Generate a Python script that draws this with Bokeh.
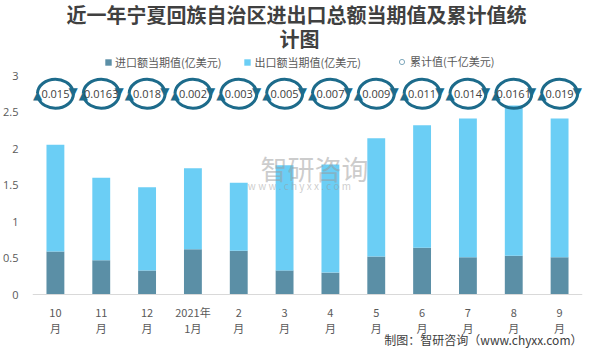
import math
from bokeh.plotting import figure
from bokeh.models import (Range1d, FixedTicker, Label, Legend, LegendItem, ColumnDataSource, Span)
from bokeh.core.properties import value
from bokeh.embed import file_html
from bokeh.resources import INLINE

# ---- data ----
months = ["10\n月", "11\n月", "12\n月", "2021年\n1月", "2\n月", "3\n月",
          "4\n月", "5\n月", "6\n月", "7\n月", "8\n月", "9\n月"]
imports = [0.59, 0.47, 0.33, 0.62, 0.60, 0.33, 0.30, 0.52, 0.64, 0.51, 0.53, 0.51]
exports = [1.46, 1.13, 1.14, 1.11, 0.93, 1.44, 1.48, 1.62, 1.68, 1.90, 2.06, 1.90]
cumulative = [0.015, 0.0163, 0.018, 0.002, 0.003, 0.005, 0.007, 0.009, 0.011, 0.014, 0.0161, 0.019]
y_ticks = [0, 0.5, 1, 1.5, 2, 2.5, 3]
y_tick_labels = ["0", "0.5", "1", "1.5", "2", "2.5", "3"]

DARK = "#5b8fa6"
LIGHT = "#6bcef5"
ICON = "#1d6b8b"
TXT = "#595959"
CJK = "Noto Sans CJK SC"
ICON_Y = 2.75

W, H = 589, 348
PX = 73.0  # pixels per y unit
p = figure(width=W, height=H, x_range=Range1d(-0.5, 11.5),
           y_range=Range1d(-(H - 294) / PX, 294 / PX),
           output_backend="svg", toolbar_location=None, x_axis_location=None,
           min_border_left=30, min_border_right=7, min_border_top=0, min_border_bottom=0)
p.outline_line_color = None
p.grid.visible = False
p.background_fill_color = "white"
p.border_fill_color = "white"

xs = list(range(len(months)))
src = ColumnDataSource(dict(x=xs, imp=imports, exp=exports, lab=months, zero=[0] * len(xs)))
rs = p.vbar_stack(["imp", "exp"], x="x", width=0.39, color=[DARK, LIGHT], line_color=None, source=src)

# x axis line and category labels
p.add_layout(Span(location=0, dimension="width", line_color="#d9d9d9", line_width=1))
p.text(x="x", y="zero", text="lab", y_offset=9, text_align="center", text_baseline="top",
       text_font_size="11px", text_font=value(CJK), text_color=TXT, text_line_height=1.02,
       source=src)

# watermark
p.add_layout(Label(x=282, y=180, x_units="screen", y_units="screen",
                   text="智研咨询", text_align="center", text_alpha=0.5,
                   text_baseline="middle", text_font=CJK,
                   text_font_size="27px", text_color="#9a9a9a"))
p.add_layout(Label(x=267, y=163, x_units="screen", y_units="screen",
                   text="w w w . c h y x x . c o m", text_align="center", text_alpha=0.5,
                   text_baseline="middle", text_font=CJK,
                   text_font_size="10px", text_color="#9a9a9a"))

# cumulative icons: dashed ellipse (two arcs) + two arrow heads
isrc = ColumnDataSource(dict(x=xs, y=[ICON_Y] * len(xs), label=[str(v) for v in cumulative]))
EW, EH = 36, 29
p.ellipse(x="x", y="y", width=EW, height=EH, width_units="screen", height_units="screen",
          fill_color=None, line_color=ICON, line_width=3, line_dash="46 5", source=isrc)
ang = math.radians(9)
dx, dy = EW / 2 * math.cos(ang), EH / 2 * math.sin(ang)
p.text(x="x", y="y", text=value("▼"), x_offset=dx, y_offset=-dy + 1,
       text_align="center", text_baseline="middle", text_font_size="12px", text_color=ICON,
       text_font=value("DejaVu Sans"), source=isrc)
p.text(x="x", y="y", text=value("▲"), x_offset=-dx, y_offset=dy - 1,
       text_align="center", text_baseline="middle", text_font_size="12px", text_color=ICON,
       text_font=value("DejaVu Sans"), source=isrc)
p.text(x="x", y="y", text="label", text_align="center", text_baseline="middle",
       text_font_size="11px", text_color="#404040", text_font=value("Open Sans"), source=isrc)

# y axis
p.yaxis.ticker = FixedTicker(ticks=y_ticks)
p.yaxis.major_label_overrides = {t: l for t, l in zip(y_ticks, y_tick_labels)}
p.yaxis.major_tick_line_color = None
p.yaxis.minor_tick_line_color = None
p.yaxis.axis_line_color = None
p.yaxis.major_label_text_font_size = "11px"
p.yaxis.major_label_text_font = "Open Sans"
p.yaxis.major_label_text_color = TXT
p.yaxis.major_label_standoff = 8

# legends
legend = Legend(items=[LegendItem(label="进口额当期值(亿美元)", renderers=[rs[0]]),
                       LegendItem(label="出口额当期值(亿美元)", renderers=[rs[1]])],
                orientation="horizontal", location=(72, 278), glyph_width=8, glyph_height=8,
                label_text_font_size="11px", label_text_font=CJK, label_text_color=TXT,
                spacing=22, padding=0, margin=0, label_standoff=3, label_height=12,
                border_line_color=None, background_fill_alpha=0)
p.add_layout(legend)
# legend-only marker for the cumulative series (size 0: nothing drawn in the plot area)
circ = p.scatter(x="x", y="y", source=isrc, marker="circle", size=0,
                 fill_color=None, line_color="#7fa9bd", line_width=1)
legend2 = Legend(items=[LegendItem(label="累计值(千亿美元)", renderers=[circ])],
                 orientation="horizontal", location=(363, 279), glyph_width=13, glyph_height=13,
                 label_text_font_size="11px", label_text_font=CJK, label_text_color=TXT,
                 spacing=0, padding=0, margin=0, label_standoff=2, label_height=12,
                 border_line_color=None, background_fill_alpha=0)
p.add_layout(legend2)

# title / footer (screen units: from frame bottom-left)
p.add_layout(Label(x=264, y=334, x_units="screen", y_units="screen",
                   text="近一年宁夏回族自治区进出口总额当期值及累计值统", text_align="center",
                   text_baseline="middle", text_font=CJK, text_font_style="bold",
                   text_font_size="20px", text_color="#404040"))
p.add_layout(Label(x=267, y=310, x_units="screen", y_units="screen",
                   text="计图", text_align="center",
                   text_baseline="middle", text_font=CJK, text_font_style="bold",
                   text_font_size="20px", text_color="#404040"))
p.add_layout(Label(x=550, y=9, x_units="screen", y_units="screen",
                   text="制图：智研咨询（www.chyxx.com）", text_align="right",
                   text_baseline="middle", text_font=CJK,
                   text_font_size="12px", text_color="#404040"))

open("out.html", "w").write(file_html(p, INLINE))
